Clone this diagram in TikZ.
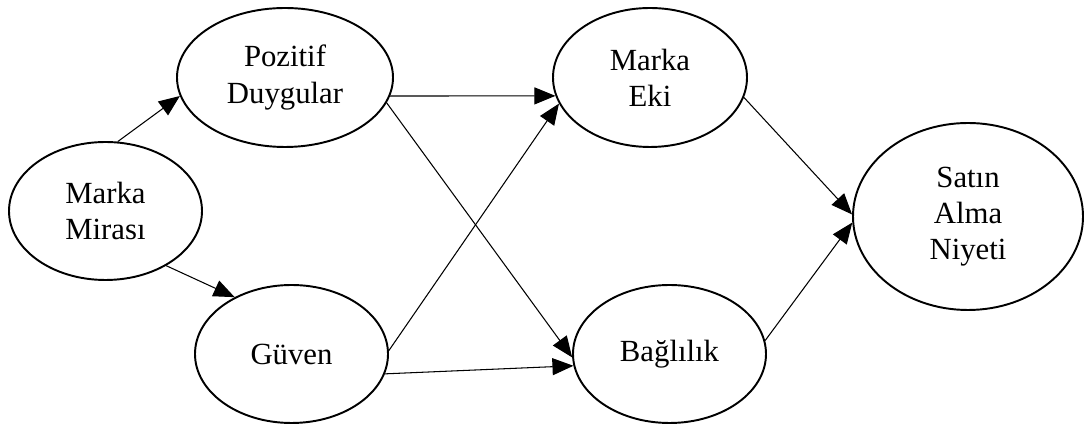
\documentclass[tikz,border=0pt]{standalone}
\usepackage{fontspec}
\setmainfont{Liberation Serif}
\usetikzlibrary{shapes,arrows.meta}

\begin{document}
\begin{tikzpicture}[
    yapi/.style={ellipse,draw,line width=1.1pt,inner sep=0pt,align=center,
      font=\fontsize{17.5}{20.5}\selectfont},
    ok/.style={-{Triangle[length=0.42cm,width=0.34cm]},line width=0.6pt}]
  \useasboundingbox (0,0) rectangle (21.68,-8.5);
  % gizil degiskenler
  \node[yapi,minimum width=3.86cm,minimum height=2.76cm] (mm) at (2.11,-4.22) {Marka\\Mirası};
  \node[yapi,minimum width=4.32cm,minimum height=2.78cm] (pd) at (5.70,-1.55) {Pozitif\\Duygular};
  \node[yapi,minimum width=3.86cm,minimum height=2.76cm] (gv) at (5.83,-7.08) {Güven};
  \node[yapi,minimum width=3.88cm,minimum height=2.78cm] (me) at (13.00,-1.55) {Marka\\Eki};
  \node[yapi,minimum width=3.86cm,minimum height=2.76cm] (bg) at (13.39,-7.08) {Bağlılık};
  \node[yapi,minimum width=4.60cm,minimum height=3.74cm] (sa) at (19.36,-4.33) {Satın\\Alma\\Niyeti};
  % yollar
  \draw[ok] (mm.80) -- (pd.190);
  \draw[ok] (mm.-42) -- (gv.135);
  \draw[ok] (pd.-10) -- (me.191);
  \draw[ok] (pd.-14) -- (bg.182);
  \draw[ok] (gv.2) -- (me.196);
  \draw[ok] (gv.-12) -- (bg.187);
  \draw[ok] (me.-12) -- (sa.179);
  \draw[ok] (bg.8) -- (sa.183);
\end{tikzpicture}
\end{document}
